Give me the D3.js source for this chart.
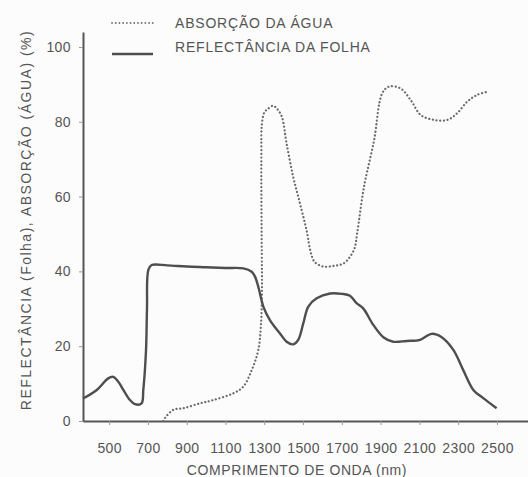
<!DOCTYPE html>
<html>
<head>
<meta charset="utf-8">
<script src="https://cdn.jsdelivr.net/npm/d3@7"></script>
<style>
  body { margin:0; background:#fcfcfc; }
  svg { display:block; font-family:"Liberation Sans", Arial, sans-serif; }
</style>
</head>
<body>
<div id="chart"></div>
<script>
// wavelengths (nm) and values (%)
var reflWl  = [365,436,495,521,547,573,607,633,667,676,690,695,702,719,800,900,1000,1100,1192,1235,1252,1269,1295,1329,1381,1415,1449,1475,1501,1527,1570,1639,1700,1742,1776,1810,1862,1914,1965,2034,2103,2163,2215,2275,2326,2378,2429,2498];
var reflVal = [6.0,8.3,11.4,11.8,10.5,8.3,5.6,4.5,4.7,8.3,19,30,40.4,41.7,41.6,41.3,41.1,40.9,40.8,39.9,38.6,35.9,30.6,27,23.4,21.2,20.5,21.7,26.1,30.6,32.8,34.1,34.0,33.5,31.5,30.1,25.7,22.4,21.2,21.4,21.7,23.3,22.4,19,13.6,8.3,6.1,3.4];

var absWl  = [779,788,831,882,968,1037,1140,1192,1235,1269,1283,1288,1287,1285,1285,1287,1300,1320,1345,1365,1390,1415,1449,1484,1518,1540,1560,1604,1660,1711,1762,1779,1814,1866,1908,1943,2003,2055,2107,2175,2244,2295,2347,2398,2450];
var absVal = [0,0.8,3.0,3.4,4.7,5.6,7.4,9.2,13.6,19,26,35,45,60,72,79,82.5,83.5,84.3,83.5,81.4,74.2,65.3,58.2,51,45,42.5,41.3,41.5,42.2,45.7,50.3,62.6,75,87.6,89.4,88.9,85.8,81.8,80.5,80.5,82.3,85.4,87.2,88];

var xTicks = [500,700,900,1100,1300,1500,1700,1900,2100,2300,2500];
var yTicks = [0,20,40,60,80,100];

var legendLabels = ["ABSORÇÃO DA ÁGUA", "REFLECTÂNCIA DA FOLHA"];
var xTitle = "COMPRIMENTO DE ONDA (nm)";
var yTitle = "REFLECTÂNCIA (Folha), ABSORÇÃO (ÁGUA) (%)";

var W = 528, H = 477;
var ink = "#555";

var svg = d3.select("#chart").append("svg").attr("width", W).attr("height", H);

var x = d3.scaleLinear().domain([365, 2660]).range([83, 528]);
var y = d3.scaleLinear().domain([0, 104]).range([421, 32]);

// axes
var gx = svg.append("g").attr("transform", "translate(0," + y(0) + ")")
  .call(d3.axisBottom(x).tickValues(xTicks).tickSize(4).tickSizeOuter(0).tickPadding(18).tickFormat(d3.format("d")));
var gy = svg.append("g").attr("transform", "translate(" + x(365) + ",0)")
  .call(d3.axisLeft(y).tickValues(yTicks).tickSize(4).tickSizeOuter(0).tickPadding(8));

[gx, gy].forEach(function(g){
  g.select(".domain").attr("stroke", ink).attr("stroke-width", 2);
  g.selectAll(".tick line").attr("stroke", "#999").attr("stroke-width", 1);
  g.selectAll(".tick text").attr("fill", ink).style("font-size", "14px").style("letter-spacing", "0.4px");
});
gy.selectAll(".tick text").attr("dy", "0.32em");

var line = d3.line().curve(d3.curveCatmullRom.alpha(0.5))
  .x(function(d){ return x(d[0]); })
  .y(function(d){ return y(d[1]); });

var reflData = reflWl.map(function(w, i){ return [w, reflVal[i]]; });
var absData = absWl.map(function(w, i){ return [w, absVal[i]]; });

svg.append("path").datum(absData).attr("d", line)
  .attr("fill", "none").attr("stroke", "#6a6a6a").attr("stroke-width", 2.2)
  .attr("stroke-linecap", "round").attr("stroke-dasharray", "0.1 3.6");

svg.append("path").datum(reflData).attr("d", line)
  .attr("fill", "none").attr("stroke", "#4e4e4e").attr("stroke-width", 2.4)
  .attr("stroke-linejoin", "round");

// legend
var lg = svg.append("g");
lg.append("line").attr("x1", 112).attr("x2", 153).attr("y1", 23).attr("y2", 23)
  .attr("stroke", "#777").attr("stroke-width", 1.8).attr("stroke-linecap", "round").attr("stroke-dasharray", "0.1 3.6");
lg.append("line").attr("x1", 112).attr("x2", 153).attr("y1", 54).attr("y2", 54)
  .attr("stroke", "#4e4e4e").attr("stroke-width", 2.4);
lg.selectAll("text.leg").data(legendLabels).enter().append("text")
  .attr("class", "leg")
  .attr("x", 175).attr("y", function(d, i){ return i == 0 ? 23 : 47; })
  .attr("dy", "0.35em")
  .attr("fill", ink).style("font-size", "14px").style("letter-spacing", "0.8px")
  .text(function(d){ return d; });

// axis titles
svg.append("text").attr("x", 297).attr("y", 470).attr("dy", "0.35em")
  .attr("text-anchor", "middle").attr("fill", ink)
  .style("font-size", "14px").style("letter-spacing", "0.6px").text(xTitle);

svg.append("text").attr("transform", "translate(26,220) rotate(-90)")
  .attr("dy", "0.35em").attr("text-anchor", "middle").attr("fill", ink)
  .style("font-size", "14px").style("letter-spacing", "1.5px").text(yTitle);
</script>
</body>
</html>
